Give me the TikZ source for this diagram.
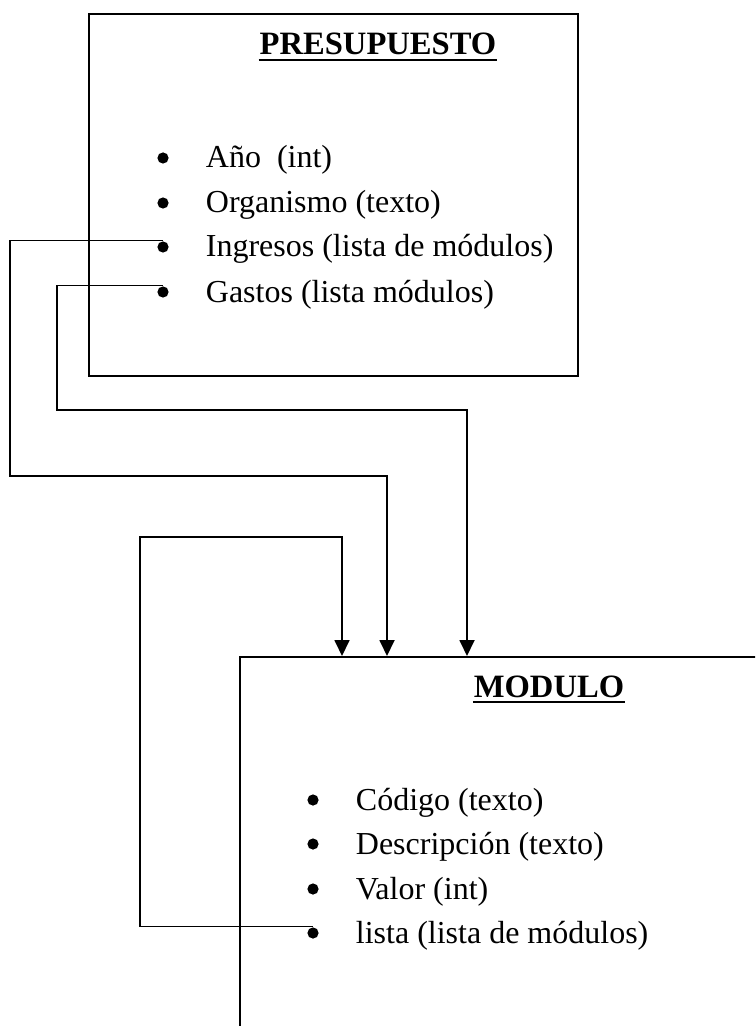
\documentclass[tikz,border=0pt]{standalone}
\usepackage{fontspec}
\setmainfont{Liberation Serif}
\usetikzlibrary{arrows.meta,positioning}

\begin{document}
\begin{tikzpicture}[
  x=0.5pt, y=-0.5pt,
  line width=0.9pt,
  classbox/.style={draw, line width=0.9pt, inner sep=0pt, anchor=north west},
  title/.style={font=\fontsize{16.3}{19}\selectfont\bfseries, inner sep=0pt, anchor=base},
  uline/.style={line width=1.2pt},
  dot/.style={circle, fill, inner sep=0pt, minimum size=5.6pt},
  item/.style={font=\fontsize{16}{19}\selectfont, inner sep=0pt, anchor=base west},
  arr/.style={-{Triangle[length=8pt,width=7.5pt]}, line width=0.9pt},
]
  \useasboundingbox (0,0) rectangle (755,1026);
  \clip (0,0) rectangle (755,1026);

  % PRESUPUESTO
  \node[classbox, minimum width=244.5pt, minimum height=181pt] (presupuesto) at (88,13) {};
  \node[title] (ptitle) at (378,55) {PRESUPUESTO};
  \draw[uline] ([yshift=-2.5pt]ptitle.base west) -- ([yshift=-2.5pt]ptitle.base east);
  \node[dot] (aniodot) at (163,158) {};
  \node[dot] (orgdot) at (163,203) {};
  \node[dot] (ingdot) at (163,247) {};
  \node[dot] (gasdot) at (163,292) {};
  \node[item] (anio) at (205,168) {Año\ \ (int)};
  \node[item] (org) at (205,213) {Organismo (texto)};
  \node[item] (ing) at (205,257) {Ingresos (lista de módulos)};
  \node[item] (gas) at (205,302) {Gastos (lista módulos)};

  % MODULO
  \node[classbox, minimum width=300pt, minimum height=250pt] (modulo) at (239,656) {};
  \node[title] (mtitle) at (549,697) {MODULO};
  \draw[uline] ([yshift=-2.5pt]mtitle.base west) -- ([yshift=-2.5pt]mtitle.base east);
  \node[dot] (coddot) at (313,800) {};
  \node[dot] (desdot) at (313,844) {};
  \node[dot] (valdot) at (313,889) {};
  \node[dot] (listadot) at (313,933) {};
  \node[item] (cod) at (355,810) {Código (texto)};
  \node[item] (des) at (355,854) {Descripción (texto)};
  \node[item] (val) at (355,899) {Valor (int)};
  \node[item] (lista) at (355,943) {lista (lista de módulos)};

  % relaciones
  \draw[arr] (ingdot.north) -- ++(-153,0) -- ++(0,235.5) -| ([xshift=74pt]modulo.north west);
  \draw[arr] (gasdot.north) -- ++(-106,0) -- ++(0,124.5) -| ([xshift=114pt]modulo.north west);
  \draw[arr] (listadot.north) -- ++(-173,0) -- ++(0,-389.5) -| ([xshift=51.5pt]modulo.north west);
\end{tikzpicture}
\end{document}
